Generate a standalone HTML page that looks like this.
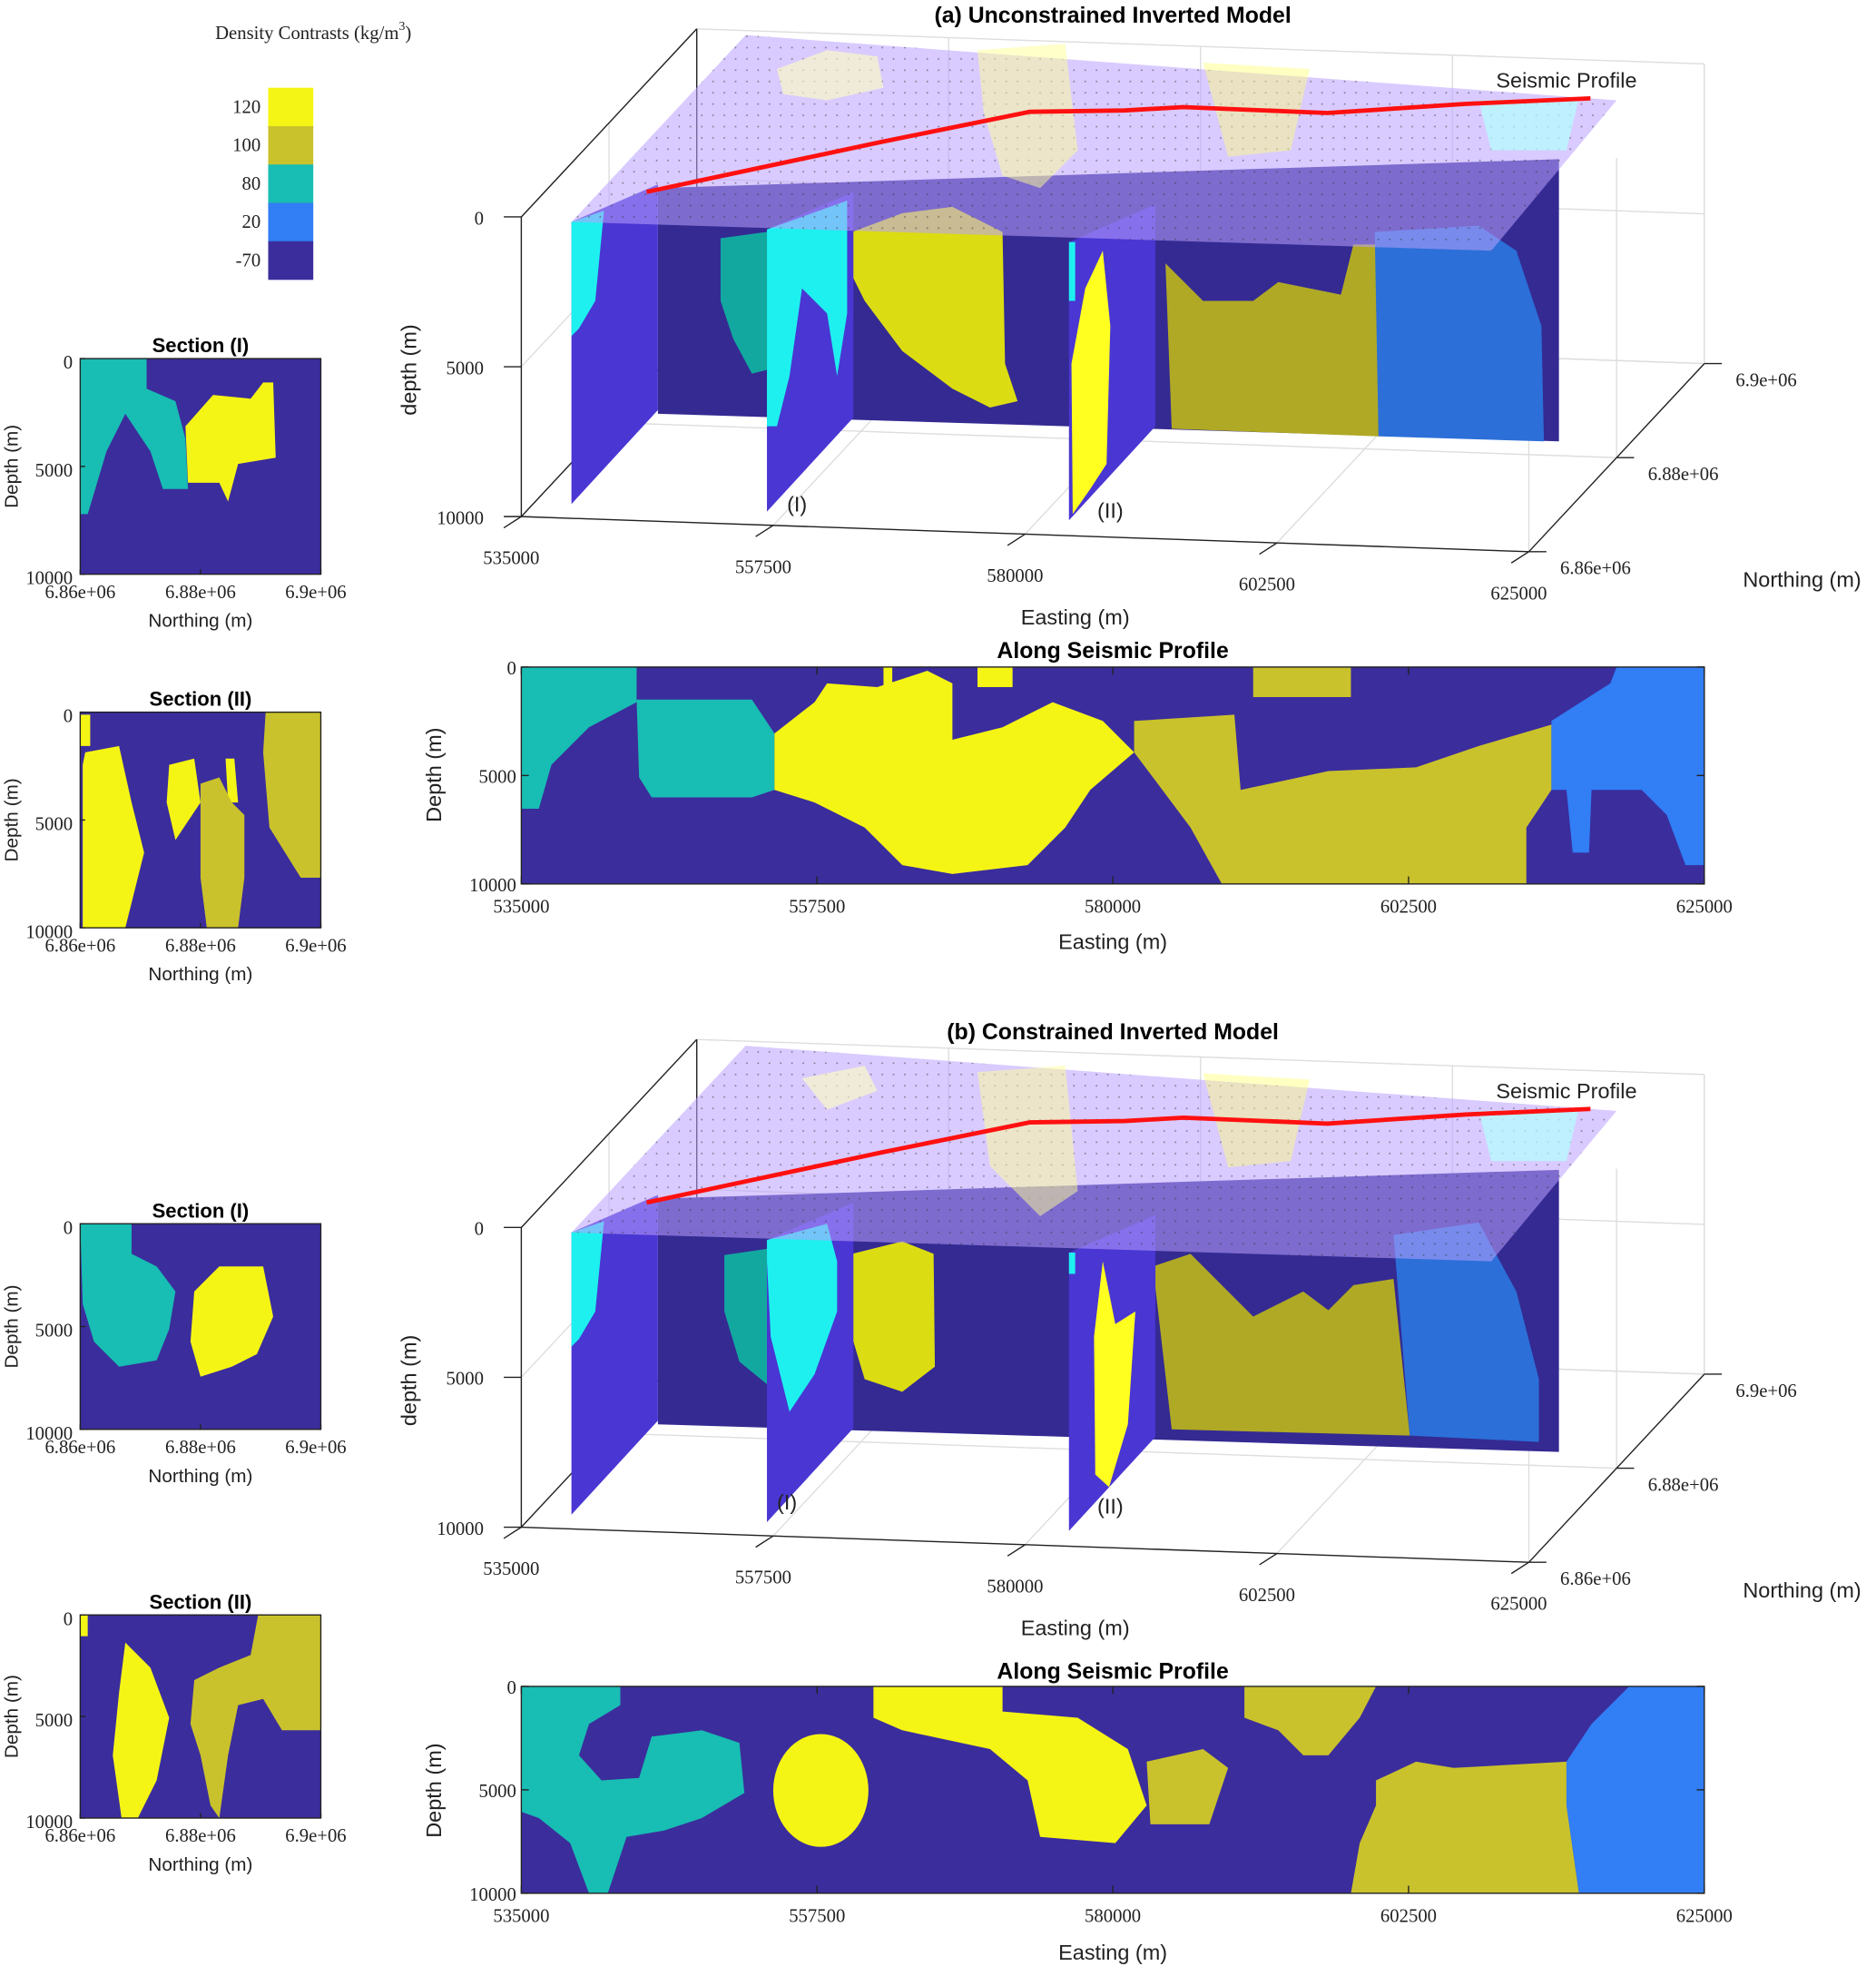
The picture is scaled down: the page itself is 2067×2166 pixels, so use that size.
<!DOCTYPE html>
<html><head><meta charset="utf-8"><style>
html,body{margin:0;padding:0;background:#fff;}
svg{display:block;}
.s{font-family:"Liberation Serif",serif;font-size:15px;fill:#222;}
.t{font-family:"Liberation Sans",sans-serif;font-weight:bold;font-size:18px;fill:#000;}
.st{font-family:"Liberation Sans",sans-serif;font-weight:bold;font-size:16px;fill:#000;}
.l{font-family:"Liberation Sans",sans-serif;font-size:17px;fill:#222;}
.ls{font-family:"Liberation Sans",sans-serif;font-size:15px;fill:#222;}
</style></head><body>
<svg id="fig" width="2067" height="2166" viewBox="0 0 1497 1568" preserveAspectRatio="none" xmlns="http://www.w3.org/2000/svg">
<defs>
<pattern id="dots" width="9" height="9" patternUnits="userSpaceOnUse"><circle cx="2" cy="2" r="0.7" fill="#333"/></pattern>
</defs>

<g id="cbar">
<text class="s" x="250" y="31" text-anchor="middle">Density Contrasts (kg/m<tspan font-size="10" dy="-7">3</tspan><tspan dy="7">)</tspan></text>
</g>

<g id="p3a">
<text class="t" x="888" y="18" text-anchor="middle">(a) Unconstrained Inverted Model</text>
</g>
<g id="p3b">
<text class="t" x="888" y="829" text-anchor="middle">(b) Constrained Inverted Model</text>
</g>

<g>
<text class="t" x="888" y="525" text-anchor="middle">Along Seismic Profile</text>
<rect x="416" y="532" width="944" height="173" fill="#3b2d9c"/>
<polygon fill="#18bdb3" points="416,532 508,532 508,560 470,580 440,610 430,645 416,645"/>
<polygon fill="#18bdb3" points="508,558 600,558 618,585 618,630 600,636 520,636 510,620"/>
<polygon fill="#f5f515" points="618,585 650,560 660,545 700,548 740,535 760,545 760,590 800,580 840,560 880,575 905,600 870,630 850,660 820,690 760,697 720,690 690,660 650,640 618,630"/>
<polygon fill="#f5f515" points="780,532 808,532 808,548 780,548"/>
<polygon fill="#f5f515" points="705,532 712,532 712,548 705,548"/>
<polygon fill="#c9c22c" points="905,575 985,570 990,630 1060,615 1130,612 1180,595 1238,578 1238,630 1218,660 1218,705 975,705 950,660 905,600"/>
<polygon fill="#c9c22c" points="1000,532 1078,532 1078,556 1000,556"/>
<polygon fill="#317ef5" points="1238,575 1285,545 1290,532 1360,532 1360,690 1345,690 1330,650 1310,630 1270,630 1268,680 1255,680 1250,630 1238,630"/>
<rect x="416" y="532" width="944" height="173" fill="none" stroke="#222"/>
<text class="l" x="888" y="757" text-anchor="middle">Easting (m)</text>
<text class="l" transform="translate(352,618) rotate(-90)" text-anchor="middle">Depth (m)</text>
</g>

<g>
<text class="t" x="888" y="1339" text-anchor="middle">Along Seismic Profile</text>
<rect x="416" y="1345" width="944" height="165" fill="#3b2d9c"/>
<polygon fill="#18bdb3" points="416,1345 495,1345 495,1360 470,1375 462,1400 480,1420 510,1418 520,1385 560,1380 590,1390 594,1430 560,1450 530,1460 500,1465 485,1510 470,1510 455,1470 430,1450 416,1445"/>
<ellipse fill="#f5f515" cx="655" cy="1428" rx="38" ry="45"/>
<polygon fill="#f5f515" points="697,1345 800,1345 800,1365 860,1370 900,1395 915,1440 890,1470 830,1465 820,1420 790,1395 720,1380 697,1370"/>
<polygon fill="#c9c22c" points="915,1405 960,1395 980,1410 965,1455 918,1455"/>
<polygon fill="#c9c22c" points="993,1345 1098,1345 1085,1370 1060,1400 1040,1400 1020,1380 993,1370"/>
<polygon fill="#c9c22c" points="1098,1420 1130,1405 1160,1410 1250,1405 1250,1440 1260,1510 1078,1510 1085,1470 1098,1440"/>
<polygon fill="#317ef5" points="1250,1405 1270,1375 1300,1345 1360,1345 1360,1510 1260,1510 1250,1440"/>
<rect x="416" y="1345" width="944" height="165" fill="none" stroke="#222"/>
<text class="l" x="888" y="1563" text-anchor="middle">Easting (m)</text>
<text class="l" transform="translate(352,1428) rotate(-90)" text-anchor="middle">Depth (m)</text>
</g>

<g>
<text class="st" x="160" y="281" text-anchor="middle">Section (I)</text>
<rect x="64" y="286" width="192" height="172" fill="#3b2d9c"/>
<polygon fill="#18bdb3" points="64,286 117,286 117,310 140,320 148,350 150,390 130,390 120,360 100,330 85,360 70,410 64,410"/>
<polygon fill="#f5f515" points="148,340 170,315 200,318 210,305 218,305 220,365 190,370 182,400 175,385 150,385"/>
<rect x="64" y="286" width="192" height="172" fill="none" stroke="#222"/>
</g>
<g>
<text class="st" x="160" y="563" text-anchor="middle">Section (II)</text>
<rect x="64" y="568" width="192" height="172" fill="#3b2d9c"/>
<polygon fill="#f5f515" points="68,600 95,595 105,640 115,680 100,740 66,740 66,610"/>
<polygon fill="#f5f515" points="64,570 72,570 72,595 64,595"/>
<polygon fill="#f5f515" points="135,610 155,605 160,640 140,670 133,640"/>
<polygon fill="#f5f515" points="180,605 187,605 190,640 182,640"/>
<polygon fill="#c9c22c" points="160,625 175,620 185,640 195,650 195,700 190,740 165,740 160,700"/>
<polygon fill="#c9c22c" points="212,568 256,568 256,700 240,700 215,660 210,600"/>
<rect x="64" y="568" width="192" height="172" fill="none" stroke="#222"/>
</g>
<g>
<text class="st" x="160" y="971" text-anchor="middle">Section (I)</text>
<rect x="64" y="976" width="192" height="164" fill="#3b2d9c"/>
<polygon fill="#18bdb3" points="64,976 105,976 105,1000 125,1010 140,1030 135,1060 125,1085 95,1090 75,1070 66,1040"/>
<polygon fill="#f5f515" points="155,1030 175,1010 210,1010 218,1050 205,1080 185,1090 160,1098 152,1070"/>
<rect x="64" y="976" width="192" height="164" fill="none" stroke="#222"/>
</g>
<g>
<text class="st" x="160" y="1283" text-anchor="middle">Section (II)</text>
<rect x="64" y="1288" width="192" height="162" fill="#3b2d9c"/>
<polygon fill="#f5f515" points="64,1288 70,1288 70,1305 64,1305"/>
<polygon fill="#f5f515" points="100,1310 120,1330 135,1370 125,1420 110,1450 97,1450 90,1400 95,1350"/>
<polygon fill="#c9c22c" points="155,1340 175,1330 200,1320 206,1288 256,1288 256,1380 225,1380 210,1355 190,1360 182,1400 175,1450 168,1440 160,1400 152,1375"/>
<rect x="64" y="1288" width="192" height="162" fill="none" stroke="#222"/>
</g>

<script>
const NS="http://www.w3.org/2000/svg";
const svg=document.getElementById('fig');
// ---- data ----
const cbarValues=[120,100,80,20,-70];
const cbarColors=["#f5f515","#c9c22c","#18bdb3","#317ef5","#3b2d9c"];
const eastingTicks=[535000,557500,580000,602500,625000];
const depthTicks=[0,5000,10000];
const northingTicks=[6.86e6,6.88e6,6.9e6];
const northingLabels=["6.86e+06","6.88e+06","6.9e+06"];
// seismic profile line (easting, northing)
const profileE=[539500,557500,569200,578200,583600,598000,610600,622300];
const profileN=[6.8668e6,6.8796e6,6.888e6,6.8896e6,6.8912e6,6.892e6,6.8964e6,6.9e6];

function el(tag,attrs,parent,text){const e=document.createElementNS(NS,tag);for(const k in attrs)e.setAttribute(k,attrs[k]);if(text!==undefined)e.textContent=text;(parent||svg).appendChild(e);return e;}

const cb=document.getElementById('cbar');
cbarValues.forEach((v,i)=>{
  const r=el('rect',{x:214,y:70+i*30.6,width:36,height:30.8,fill:cbarColors[i]},cb);
  
  
  const t=el('text',{x:208,y:90+i*30.6,'text-anchor':'end','class':'s'},cb,String(v));
  
  
});

function profileAxes(x0,x1,y0,y1,labY){
  const xs=v=>x0+(v-535000)/(625000-535000)*(x1-x0);
  const ys=v=>y0+v/10000*(y1-y0);
  eastingTicks.forEach(v=>{
    const X=xs(v);
    el('line',{x1:X,y1:y1,x2:X,y2:y1-6,stroke:'#222'});
    el('line',{x1:X,y1:y0,x2:X,y2:y0+6,stroke:'#222'});
    const t=el('text',{x:X,y:labY,'text-anchor':'middle','class':'s','font-size':'17'},undefined,String(v));
    
    
  });
  depthTicks.forEach(v=>{
    const Y=ys(v);
    el('line',{x1:x0,y1:Y,x2:x0+6,y2:Y,stroke:'#222'});
    el('line',{x1:x1,y1:Y,x2:x1-6,y2:Y,stroke:'#222'});
    const t=el('text',{x:x0-4,y:Y+6,'text-anchor':'end','class':'s','font-size':'17'},undefined,String(v));
    
    
  });
}
profileAxes(416,1360,532,705,728);
profileAxes(416,1360,1345,1510,1533);

function sectionAxes(x0,x1,y0,y1){
  const xs=v=>x0+(v-6.86e6)/(6.9e6-6.86e6)*(x1-x0);
  const ys=v=>y0+v/10000*(y1-y0);
  northingTicks.forEach((v,i)=>{
    const X=xs(v);
    el('line',{x1:X,y1:y1,x2:X,y2:y1-4,stroke:'#222'});
    const t=el('text',{x:i===2?X-4:X,y:y1+19,'text-anchor':'middle','class':'s'},undefined,northingLabels[i]);
    
    
  });
  depthTicks.forEach(v=>{
    const Y=ys(v);
    el('line',{x1:x0,y1:Y,x2:x0+4,y2:Y,stroke:'#222'});
    const t=el('text',{x:x0-6,y:Y+8,'text-anchor':'end','class':'s'},undefined,String(v));
    
    
  });
  const xt=el('text',{x:(x0+x1)/2,y:y1+42,'text-anchor':'middle','class':'ls'},undefined,'Northing (m)');
  
  
  const yt=el('text',{transform:`translate(14,${(y0+y1)/2}) rotate(-90)`,'text-anchor':'middle','class':'ls'},undefined,'Depth (m)');
  
  
}
sectionAxes(64,256,286,458);
sectionAxes(64,256,568,740);
sectionAxes(64,256,976,1140);
sectionAxes(64,256,1288,1450);

function panel3d(g,dy,variant){
  const P=(pts)=>pts.map(p=>p[0]+','+(p[1]+dy)).join(' ');
  const poly=(pts,fill,name,extra)=>{const p=el('polygon',Object.assign({points:P(pts),fill:fill},extra||{}),g);return p;};
  const line=(a,b,c,w)=>el('line',{x1:a[0],y1:a[1]+dy,x2:b[0],y2:b[1]+dy,stroke:c||'#ddd','stroke-width':w||1},g);
  const E0=[416,412],Ex=[1220,440],Ny=[1360,290];
  const proj=(e,n,d)=>{const u=(e-535000)/(625000-535000),v=(n-6.86e6)/(0.04e6),w=1-d/10000;
    return [E0[0]+u*(Ex[0]-E0[0])+v*(Ny[0]-Ex[0]), E0[1]+u*(Ex[1]-E0[1])+v*(Ny[1]-Ex[1])-w*239];};
  // top surface plane mapping (bilinear on the translucent top slice)
  const A=[456,177],B=[1190,200],C=[1290,80],D=[595,28];
  const topProj=(e,n)=>{const u=(e-535000)/90000,v=(n-6.86e6)/0.04e6;
    const bx=(1-u)*A[0]+u*B[0],by=(1-u)*A[1]+u*B[1],tx=(1-u)*D[0]+u*C[0],ty=(1-u)*D[1]+u*C[1];
    return [bx+v*(tx-bx),by+v*(ty-by)];};
  eastingTicks.forEach(e=>{line(proj(e,6.86e6,10000),proj(e,6.9e6,10000));line(proj(e,6.9e6,10000),proj(e,6.9e6,0));});
  northingTicks.forEach(n=>{line(proj(535000,n,10000),proj(625000,n,10000));line(proj(625000,n,10000),proj(625000,n,0));line(proj(535000,n,10000),proj(535000,n,0));});
  depthTicks.forEach(d=>{line(proj(535000,6.86e6,d),proj(535000,6.9e6,d));line(proj(535000,6.9e6,d),proj(625000,6.9e6,d));});
  line(proj(535000,6.86e6,10000),proj(535000,6.86e6,0),'#222');
  line(proj(535000,6.86e6,10000),proj(625000,6.86e6,10000),'#222');
  line(proj(625000,6.86e6,10000),proj(625000,6.9e6,10000),'#222');
  line(proj(535000,6.86e6,10000),proj(535000,6.9e6,10000),'#222');
  line(proj(535000,6.86e6,0),proj(535000,6.9e6,0),'#222');
  line(proj(535000,6.9e6,0),proj(535000,6.9e6,10000),'#222');
  poly([[525,150],[1244,127],[1244,352],[525,330]],'#342a92','ew-slice');
  if(variant==='a'){
    poly([[575,190],[612,185],[612,295],[600,298],[585,270],[575,240]],'#12a8a0','ew-slice-teal');
    poly([[680,185],[720,170],[760,165],[800,185],[802,290],[812,320],[790,325],[760,310],[720,280],[690,240],[680,220]],'#dcdc12','ew-slice-yellow');
    poly([[930,210],[960,240],[1000,240],[1020,225],[1070,235],[1080,195],[1100,195],[1100,348],[935,342]],'#b0a925','ew-slice-olive');
    poly([[1097,185],[1180,180],[1210,200],[1230,260],[1232,352],[1100,348]],'#2c6fd8','ew-slice-blue');
  } else {
    poly([[578,195],[612,190],[612,298],[590,280],[578,240]],'#12a8a0','ew-slice-teal');
    poly([[680,194],[720,184],[745,194],[746,284],[720,304],[690,294],[678,254]],'#dcdc12','ew-slice-yellow');
    poly([[920,204],[950,194],[980,224],[1000,244],[1040,224],[1060,239],[1080,219],[1112,214],[1125,339],[935,334]],'#b0a925','ew-slice-olive');
    poly([[1112,179],[1180,169],[1210,224],[1228,294],[1228,344],[1125,339]],'#2c6fd8','ew-slice-blue');
  }
  const ns=(x,y0,y1,name,parts)=>{
    poly([[x,y0],[x+69,y0-30],[x+69,y1-75],[x,y1]],'#4a36d2',name);
    parts.forEach((p,i)=>poly(p,i===0?'#1ef0f0':'#ffff20',name+'-patch'));
  };
  ns(456,177,402,'ns-slice-left',[[[456,177],[482,168],[475,240],[462,262],[456,268]]]);
  if(variant==='a'){
    ns(612,183,408,'ns-slice-1',[[[612,183],[676,160],[676,250],[668,300],[660,250],[640,230],[630,300],[620,340],[612,340]]]);
    ns(853,193,415,'ns-slice-2',[[[853,193],[858,193],[858,240],[853,240]],[[866,230],[880,200],[886,260],[883,370],[870,390],[856,410],[855,290]]]);
  } else {
    ns(612,183,408,'ns-slice-1',[[[612,183],[660,170],[668,200],[668,240],[650,290],[630,320],[615,260],[612,200]]]);
    ns(853,193,415,'ns-slice-2',[[[853,193],[858,193],[858,210],[853,210]],[[880,200],[890,250],[906,240],[900,330],[885,380],[874,370],[873,260]]]);
  }
  poly([A,B,C,D],'rgba(185,160,255,0.55)','top-plane');
  poly([A,B,C,D],'url(#dots)','top-plane-dots',{opacity:0.5});
  if(variant==='a'){
    poly([[620,55],[660,40],[700,45],[705,70],[660,80],[625,75]],'rgba(255,255,190,0.6)','top-patch-1');
    poly([[780,40],[850,35],[860,120],[830,150],[800,140],[785,90]],'rgba(255,255,150,0.5)','top-patch-2');
  } else {
    poly([[640,54],[690,44],[700,64],[660,79]],'rgba(255,255,190,0.6)','top-patch-1');
    poly([[780,49],[850,44],[860,144],[830,164],[790,124]],'rgba(255,255,150,0.5)','top-patch-2');
  }
  poly([[960,50],[1045,55],[1030,120],[980,125]],'rgba(255,255,120,0.45)','top-patch-3');
  poly([[1180,80],[1260,78],[1250,120],[1190,120]],'rgba(180,255,255,0.7)','top-patch-cyan');
  const pts=profileE.map((e,i)=>topProj(e,profileN[i])).map(p=>p[0]+','+(p[1]+dy)).join(' ');
  const pl=el('polyline',{points:pts,fill:'none',stroke:'#ff1010','stroke-width':3.5,'stroke-linejoin':'round'},g);
  
  
  const tx=(x,y,s,a,c,n,extra)=>{const t=el('text',Object.assign({x:x,y:y+dy,'text-anchor':a||'middle','class':c||'s','font-size':'18'},extra||{}),g,s);return t;};
  tx(1250,70,'Seismic Profile','middle','l','seismic-profile-label',{'font-size':'21'});
  depthTicks.forEach(d=>{const p=proj(535000,6.86e6,d);line(p,[p[0]-14,p[1]],'#222');tx(p[0]-30,p[1]+6,String(d),'end','s','depth-tick-label');});
  eastingTicks.forEach(e=>{const p=proj(e,6.86e6,10000);line(p,[p[0]-14,p[1]+9],'#222');tx(p[0]-8,p[1]+38,String(e),'middle','s','easting-tick-label');});
  northingTicks.forEach((n,i)=>{const p=proj(625000,n,10000);line(p,[p[0]+14,p[1]],'#222');tx(p[0]+25,p[1]+18,northingLabels[i],'start','s','northing-tick-label');});
  tx(858,498,'Easting (m)','middle','l','x-axis-title',{'font-size':'19'});
  tx(1438,468,'Northing (m)','middle','l','northing-axis-title',{'font-size':'19'});
  const yt=el('text',{transform:`translate(332,${295+dy}) rotate(-90)`,'text-anchor':'middle','class':'l','font-size':'19'},g,'depth (m)');
  
  
  tx(variant==='a'?636:628,variant==='a'?408:398,'(I)','middle','l','section-1-marker',{'font-size':'20'});
  tx(886,variant==='a'?413:401,'(II)','middle','l','section-2-marker',{'font-size':'20'});
}
panel3d(document.getElementById('p3a'),0,'a');
panel3d(document.getElementById('p3b'),806,'b');
</script>
</svg>
</body></html>
